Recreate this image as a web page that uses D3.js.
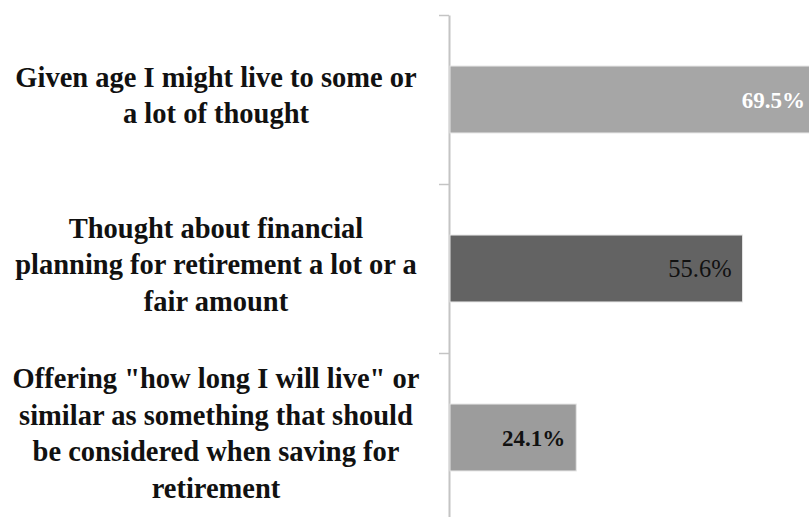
<!DOCTYPE html>
<html>
<head>
<meta charset="utf-8">
<script src="https://cdn.jsdelivr.net/npm/d3@7/dist/d3.min.js"></script>
<style>
  html, body { margin: 0; padding: 0; background: #fff; }
  svg { display: block; }
</style>
</head>
<body>
<div id="chart"></div>
<script>
// Survey responses, one bar per statement
const categories = [
  "Given age I might live to some or a lot of thought",
  "Thought about financial planning for retirement a lot or a fair amount",
  "Offering \"how long I will live\" or similar as something that should be considered when saving for retirement"
];
const labelLines = [
  ["Given age I might live to some or", "a lot of thought"],
  ["Thought about financial", "planning for retirement a lot or a", "fair amount"],
  ["Offering \"how long I will live\" or", "similar as something that should", "be considered when saving for", "retirement"]
];
const values = [69.5, 55.6, 24.1];
const barColors = ["#a6a6a6", "#636363", "#9c9c9c"];
const labelColors = ["#ffffff", "#111111", "#111111"];
const labelWeights = ["bold", "normal", "bold"];
const labelSizes = [23, 24.5, 23];

const width = 809, height = 517;
const axisX = 449;

const svg = d3.select("#chart").append("svg")
  .attr("width", width)
  .attr("height", height);

const y = d3.scaleBand()
  .domain(categories)
  .range([15, 522])
  .paddingInner(0.604)
  .paddingOuter(0.302);

const x = d3.scaleLinear()
  .domain([0, 70])
  .range([axisX, axisX + 70 * 5.28]);

// Category axis with ticks between categories
const sep = d3.scaleLinear().domain([0, categories.length]).range(y.range());
const axis = svg.append("g")
  .attr("transform", `translate(${axisX},0)`)
  .call(d3.axisLeft(sep)
    .tickValues(d3.range(categories.length + 1))
    .tickFormat("")
    .tickSizeInner(10)
    .tickSizeOuter(0));
axis.select(".domain").attr("stroke", "#c4c4c4").attr("stroke-width", 2);
axis.selectAll(".tick line").attr("stroke", "#c4c4c4").attr("stroke-width", 1.5);

// Bars
svg.append("g").selectAll("rect")
  .data(values)
  .join("rect")
  .attr("x", x(0) + 1)
  .attr("y", (d, i) => y(categories[i]))
  .attr("width", d => x(d) - x(0) - 1)
  .attr("height", y.bandwidth())
  .attr("fill", (d, i) => barColors[i])
  .attr("stroke", "#e6e6e6")
  .attr("stroke-width", 1);

// Value labels inside bar ends
svg.append("g").selectAll("text")
  .data(values)
  .join("text")
  .attr("x", d => x(d) - 11)
  .attr("y", (d, i) => y(categories[i]) + y.bandwidth() / 2)
  .attr("dy", "0.35em")
  .attr("text-anchor", "end")
  .attr("font-family", "'Liberation Serif', 'Times New Roman', serif")
  .attr("font-size", (d, i) => labelSizes[i])
  .attr("font-weight", (d, i) => labelWeights[i])
  .attr("fill", (d, i) => labelColors[i])
  .text(d => d.toFixed(1) + "%");

// Category labels, centred in the left margin
const lineH = 36.5;
const labels = svg.append("g").selectAll("text")
  .data(labelLines)
  .join("text")
  .attr("text-anchor", "middle")
  .attr("font-family", "'Liberation Serif', 'Times New Roman', serif")
  .attr("font-size", 28.5)
  .attr("font-weight", "bold")
  .attr("fill", "#111");
labels.each(function(lines, i) {
  const cy = y(categories[i]) + y.bandwidth() / 2;
  const top = cy - (lines.length - 1) * lineH / 2;
  d3.select(this).selectAll("tspan")
    .data(lines)
    .join("tspan")
    .attr("x", 216)
    .attr("y", (l, j) => top + j * lineH)
    .attr("dy", "0.2em")
    .text(l => l);
});
</script>
</body>
</html>
